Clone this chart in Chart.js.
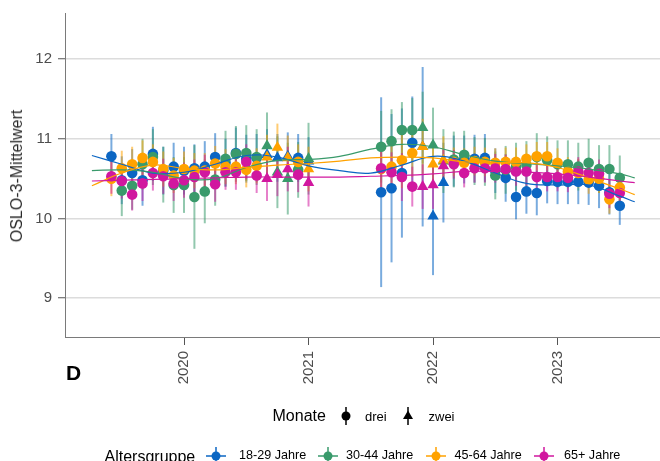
<!DOCTYPE html>
<html><head><meta charset="utf-8">
<script src="https://cdn.jsdelivr.net/npm/chart.js@4.4.1/dist/chart.umd.min.js"></script>
<style>
body{margin:0;background:#fff;}
#wrap{position:relative;width:660px;height:461px;overflow:hidden;font-family:"Liberation Sans",Arial,sans-serif;background:#fff;}
#c{position:absolute;left:0;top:0;}
.t{position:absolute;white-space:nowrap;line-height:1;color:#000;}
.m{position:absolute;}
</style></head><body>
<div id="wrap">
<canvas id="c" width="660" height="461"></canvas>
<div class="t" style="left:17px;top:175.5px;font-size:16px;color:#2a2a2a;transform:translate(-50%,-50%) rotate(-90deg);">OSLO-3-Mittelwert</div>
<div class="t" style="left:66px;top:362px;font-size:21px;font-weight:bold;">D</div>

<div class="t" style="left:272.5px;top:408px;font-size:16px;">Monate</div>
<svg class="m" style="left:336px;top:405px" width="20" height="22"><line x1="10" y1="2" x2="10" y2="20" stroke="#000" stroke-width="1.5"/><circle cx="10" cy="11" r="4.5" fill="#000"/></svg>
<div class="t" style="left:365px;top:410px;font-size:13px;">drei</div>
<svg class="m" style="left:398px;top:405px" width="20" height="22"><line x1="10" y1="2" x2="10" y2="20" stroke="#000" stroke-width="1.5"/><polygon points="10,5.5 15,14 5,14" fill="#000"/></svg>
<div class="t" style="left:428.5px;top:410px;font-size:13px;">zwei</div>

<div class="t" style="left:104.5px;top:448.5px;font-size:16px;">Altersgruppe</div>
<svg class="m" style="left:205px;top:445px" width="22" height="22"><line x1="1" y1="11" x2="21" y2="11" stroke="#0b66c3" stroke-width="1.5"/><line x1="11" y1="2" x2="11" y2="20" stroke="#0b66c3" stroke-width="1.5"/><circle cx="11" cy="11" r="4.5" fill="#0b66c3"/></svg>
<div class="t" style="left:239px;top:449px;font-size:12.6px;">18-29 Jahre</div>
<svg class="m" style="left:317px;top:445px" width="22" height="22"><line x1="1" y1="11" x2="21" y2="11" stroke="#399a6b" stroke-width="1.5"/><line x1="11" y1="2" x2="11" y2="20" stroke="#399a6b" stroke-width="1.5"/><circle cx="11" cy="11" r="4.5" fill="#399a6b"/></svg>
<div class="t" style="left:346px;top:449px;font-size:12.6px;">30-44 Jahre</div>
<svg class="m" style="left:424.5px;top:445px" width="22" height="22"><line x1="1" y1="11" x2="21" y2="11" stroke="#ffa200" stroke-width="1.5"/><line x1="11" y1="2" x2="11" y2="20" stroke="#ffa200" stroke-width="1.5"/><circle cx="11" cy="11" r="4.5" fill="#ffa200"/></svg>
<div class="t" style="left:454.5px;top:449px;font-size:12.6px;">45-64 Jahre</div>
<svg class="m" style="left:533px;top:445px" width="22" height="22"><line x1="1" y1="11" x2="21" y2="11" stroke="#d1179f" stroke-width="1.5"/><line x1="11" y1="2" x2="11" y2="20" stroke="#d1179f" stroke-width="1.5"/><circle cx="11" cy="11" r="4.5" fill="#d1179f"/></svg>
<div class="t" style="left:564px;top:449px;font-size:12.6px;">65+ Jahre</div>
</div>
<script>
// ---------- data ----------
const months = [
 '2019-06','2019-07','2019-08','2019-09','2019-10','2019-11','2019-12',
 '2020-01','2020-02','2020-03','2020-04','2020-05','2020-06','2020-07','2020-08','2020-09','2020-10','2020-11','2020-12',
 '2021-01',
 '2021-08','2021-09','2021-10','2021-11','2021-12',
 '2022-01','2022-02','2022-03','2022-04','2022-05','2022-06','2022-07','2022-08','2022-09','2022-10','2022-11','2022-12',
 '2023-01','2023-02','2023-03','2023-04','2023-05','2023-06','2023-07'
];
const monate = [
 'drei','drei','drei','drei','drei','drei','drei',
 'drei','drei','drei','drei','drei','drei','drei','drei','zwei','zwei','zwei','drei',
 'zwei',
 'drei','drei','drei','drei','zwei',
 'zwei','zwei','drei','drei','drei','drei','drei','drei','drei','drei','drei','drei',
 'drei','drei','drei','drei','drei','drei','drei'
];
const groups = ['18-29 Jahre','30-44 Jahre','45-64 Jahre','65+ Jahre'];

const age18_29 = [10.78,10.48,10.57,10.48,10.81,10.60,10.65,10.60,10.63,10.65,10.77,10.70,10.82,10.75,10.76,10.80,10.76,10.78,10.76,10.72,
 10.33,10.38,10.57,10.95,10.90,10.03,10.45,10.72,10.74,10.75,10.76,10.60,10.51,10.27,10.34,10.32,10.47,10.46,10.46,10.46,10.45,10.41,10.33,10.16];
const err18_29 = [0.28,0.30,0.30,0.32,0.34,0.30,0.30,0.30,0.30,0.32,0.30,0.30,0.32,0.30,0.30,0.32,0.30,0.30,0.30,0.30,
 1.19,0.93,0.81,0.58,1.00,0.74,0.50,0.32,0.30,0.30,0.30,0.28,0.30,0.28,0.28,0.28,0.28,0.28,0.28,0.28,0.28,0.28,0.28,0.24];

const age30_44 = [null,10.35,10.41,10.68,10.77,10.55,10.42,10.42,10.27,10.34,10.49,10.75,10.81,10.82,10.77,10.91,10.58,10.50,10.61,10.75,
 10.90,10.97,11.11,11.11,11.14,10.92,10.72,10.74,10.80,10.72,10.71,10.54,10.61,10.65,10.67,10.77,10.73,10.68,10.68,10.65,10.70,10.62,10.62,10.51];
const err30_44 = [0.35,0.32,0.30,0.32,0.35,0.35,0.35,0.35,0.65,0.40,0.33,0.35,0.35,0.35,0.35,0.42,0.45,0.45,0.35,0.45,
 0.45,0.40,0.35,0.40,0.45,0.47,0.40,0.35,0.30,0.30,0.30,0.30,0.30,0.30,0.30,0.30,0.30,0.30,0.30,0.30,0.30,0.30,0.30,0.28];

const age45_64 = [10.50,10.63,10.68,10.76,10.71,10.62,10.54,10.62,10.60,10.60,10.69,10.65,10.65,10.61,10.66,10.77,10.89,10.76,10.71,10.62,
 10.62,10.65,10.73,10.82,10.90,10.68,10.73,10.71,10.70,10.72,10.71,10.70,10.71,10.71,10.75,10.78,10.78,10.70,10.59,10.57,10.49,10.50,10.24,10.39];
const err45_64 = [0.22,0.22,0.22,0.22,0.22,0.22,0.22,0.22,0.22,0.22,0.22,0.22,0.22,0.22,0.22,0.28,0.30,0.28,0.22,0.28,
 0.30,0.30,0.35,0.30,0.35,0.30,0.30,0.18,0.18,0.18,0.18,0.18,0.18,0.18,0.18,0.18,0.18,0.18,0.18,0.18,0.18,0.18,0.18,0.18];

const age65 = [10.53,10.47,10.30,10.44,10.57,10.53,10.44,10.48,10.52,10.58,10.43,10.58,10.58,10.71,10.54,10.50,10.55,10.62,10.55,10.45,
 10.63,10.58,10.52,10.40,10.40,10.42,10.66,10.68,10.57,10.63,10.63,10.63,10.62,10.59,10.59,10.52,10.52,10.52,10.51,10.59,10.57,10.56,10.31,10.32];
const err65 = [0.22,0.22,0.20,0.22,0.22,0.22,0.22,0.22,0.22,0.22,0.22,0.22,0.22,0.22,0.22,0.28,0.27,0.28,0.22,0.30,
 0.25,0.25,0.30,0.25,0.28,0.30,0.20,0.18,0.18,0.18,0.18,0.18,0.18,0.18,0.18,0.18,0.18,0.18,0.18,0.18,0.18,0.18,0.18,0.18];

// smoothed trend lines, read at these years
const trendYears = [2019.26,2019.5,2019.75,2020.0,2020.25,2020.5,2020.75,2021.0,2021.25,2021.5,2021.75,2022.0,2022.25,2022.5,2022.75,2023.0,2023.25,2023.5,2023.62];
const trend18_29 = [10.79,10.68,10.57,10.58,10.68,10.79,10.77,10.66,10.60,10.57,10.67,10.78,10.72,10.57,10.44,10.42,10.42,10.28,10.21];
const trend30_44 = [10.60,10.61,10.58,10.50,10.50,10.64,10.73,10.74,10.78,10.87,10.93,10.90,10.80,10.72,10.69,10.66,10.62,10.56,10.51];
const trend45_64 = [10.41,10.57,10.67,10.63,10.61,10.64,10.67,10.69,10.72,10.76,10.77,10.76,10.71,10.70,10.70,10.64,10.51,10.37,10.30];
const trend65    = [10.47,10.48,10.49,10.50,10.51,10.52,10.52,10.52,10.52,10.53,10.54,10.56,10.59,10.59,10.58,10.56,10.52,10.47,10.45];

const xTickValues = [2020,2021,2022,2023];
const xTickLabels = ['2020','2021','2022','2023'];
const yTickValues = [9,10,11,12];
const yTickLabels = ['9','10','11','12'];

// ---------- styles ----------
const FONT = '"Liberation Sans", Arial, sans-serif';
const colors = ['#0b66c3','#399a6b','#ffa200','#d1179f'];
const barColors = ['rgba(11,102,195,0.55)','rgba(57,154,107,0.55)','rgba(255,162,0,0.55)','rgba(209,23,159,0.55)'];
const xRange = [2019.044, 2023.823];
const yRange = [8.514, 12.577];

const toYear = s => { const p = s.split('-').map(Number); return p[0] + (p[1]-1)/12; };

function pointDataset(vals, errs, gi){
  const data=[], e=[], styles=[], radii=[];
  vals.forEach((v,i)=>{
    if(v==null) return;
    data.push({x:toYear(months[i]), y:v});
    e.push(errs[i]);
    const tri = monate[i]==='zwei';
    styles.push(tri?'triangle':'circle');
    radii.push(tri?6.6:5.3);
  });
  return {type:'scatter', label:groups[gi], data, errs:e, barColor:barColors[gi],
    pointStyle:styles, pointRadius:radii, pointHoverRadius:radii,
    backgroundColor:colors[gi], borderColor:colors[gi], pointBorderWidth:0,
    order: 7-gi};
}
function trendDataset(vals, gi){
  return {type:'line', label:groups[gi]+' Trend', data:trendYears.map((x,i)=>({x, y:vals[i]})),
    showLine:true, borderColor:colors[gi], borderWidth:1.2, pointRadius:0, tension:0.4, fill:false, order: 3-gi};
}

const errorBars = {
  id:'errorBars',
  beforeDatasetsDraw(chart){
    const {ctx, chartArea} = chart;
    const xs = chart.scales.x, ys = chart.scales.y;
    ctx.save();
    ctx.beginPath(); ctx.rect(chartArea.left, chartArea.top, chartArea.right-chartArea.left, chartArea.bottom-chartArea.top); ctx.clip();
    chart.data.datasets.forEach(ds=>{
      if(!ds.errs) return;
      ctx.strokeStyle = ds.barColor; ctx.lineWidth = 2;
      ds.data.forEach((p,i)=>{
        const px = xs.getPixelForValue(p.x);
        ctx.beginPath();
        ctx.moveTo(px, ys.getPixelForValue(p.y - ds.errs[i]));
        ctx.lineTo(px, ys.getPixelForValue(p.y + ds.errs[i]));
        ctx.stroke();
      });
    });
    ctx.restore();
  }
};

new Chart(document.getElementById('c'), {
  type:'scatter',
  data:{datasets:[
    trendDataset(trend18_29,0), trendDataset(trend30_44,1), trendDataset(trend45_64,2), trendDataset(trend65,3),
    pointDataset(age18_29,err18_29,0), pointDataset(age30_44,err30_44,1), pointDataset(age45_64,err45_64,2), pointDataset(age65,err65,3)
  ]},
  options:{
    responsive:false, animation:false, devicePixelRatio:1, events:[],
    layout:{autoPadding:false, padding:{left:0,right:0,top:13,bottom:64}},
    plugins:{legend:{display:false}, tooltip:{enabled:false}},
    scales:{
      x:{type:'linear', min:xRange[0], max:xRange[1],
        afterFit(s){ s.height = 60; s.paddingLeft = 0; s.paddingRight = 0; },
        afterBuildTicks(s){ s.ticks = xTickValues.map(v=>({value:v})); },
        grid:{drawOnChartArea:false, drawTicks:true, tickLength:8, tickColor:'#555', tickWidth:1},
        border:{color:'#7a7a7a', width:1},
        ticks:{minRotation:90, maxRotation:90, autoSkip:false, padding:6, color:'#4d4d4d', font:{family:FONT, size:15},
          callback:(v,i)=>xTickLabels[i]}
      },
      y:{type:'linear', min:yRange[0], max:yRange[1],
        afterFit(s){ s.width = 65; s.paddingTop = 0; s.paddingBottom = 0; },
        afterBuildTicks(s){ s.ticks = yTickValues.map(v=>({value:v})); },
        grid:{color:'#dcdcdc', lineWidth:1.5, tickLength:7, tickColor:'#555', tickWidth:1},
        border:{color:'#7a7a7a', width:1},
        ticks:{padding:6, color:'#4d4d4d', font:{family:FONT, size:15}, callback:(v,i)=>yTickLabels[i]}
      }
    }
  },
  plugins:[errorBars]
});
</script>
</body></html>
